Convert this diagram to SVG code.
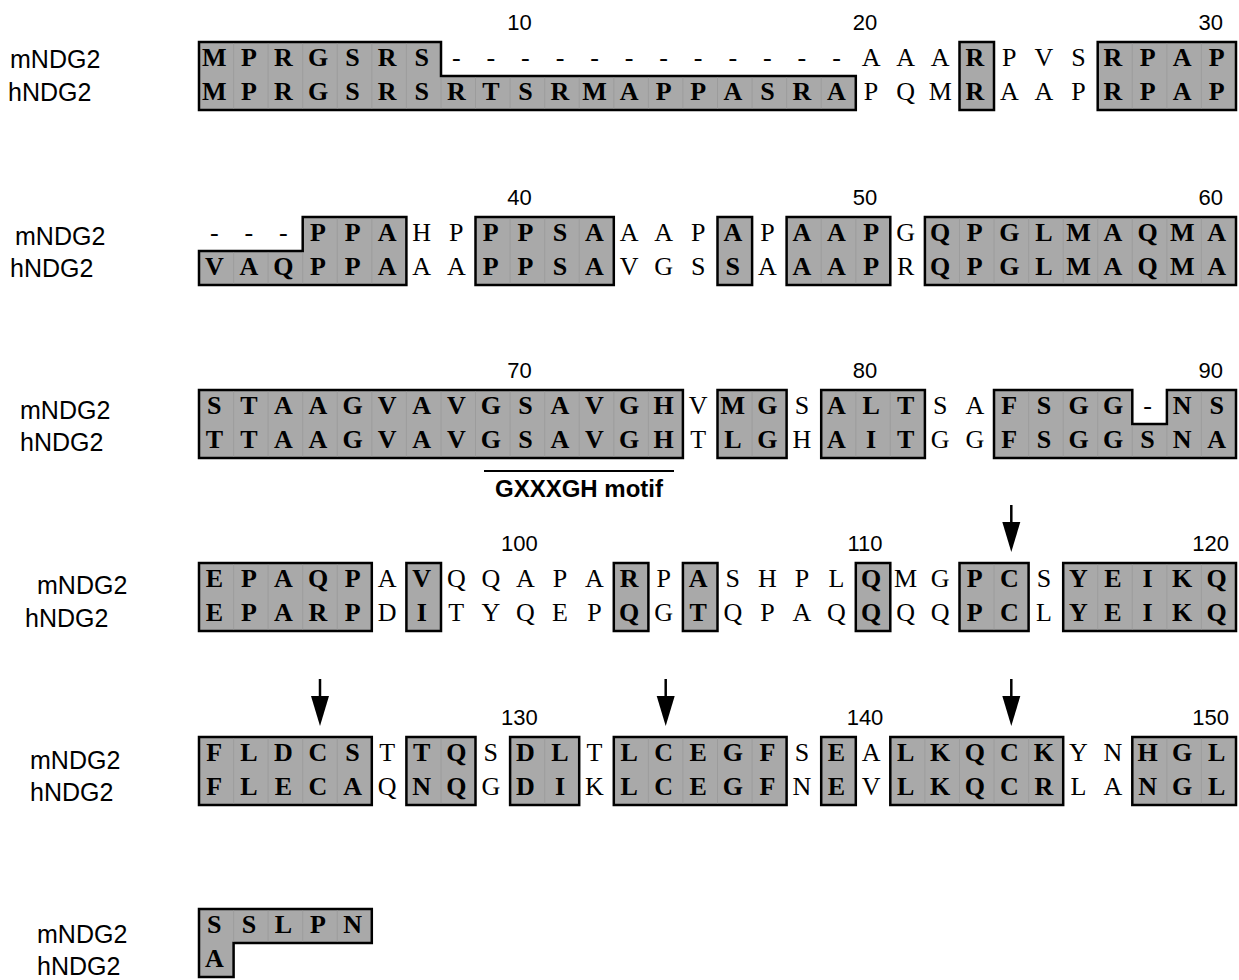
<svg xmlns="http://www.w3.org/2000/svg" width="1239" height="980" viewBox="0 0 1239 980">
<defs>
<style>
.box{fill:#a9a9a9;stroke:#000;stroke-width:2.5;stroke-linejoin:miter}
.sep{stroke:#999;stroke-width:0.8;fill:none}
.b,.n{font-family:"Liberation Serif","Times New Roman",serif;font-size:26px;text-anchor:middle;fill:#000}
.b{font-weight:bold}
.n{font-weight:normal}
.lbl{font-family:"Liberation Sans",Arial,sans-serif;font-size:25px;fill:#000}
.num{font-family:"Liberation Sans",Arial,sans-serif;font-size:22px;text-anchor:middle;fill:#000}
.motif{font-family:"Liberation Sans",Arial,sans-serif;font-size:24px;font-weight:bold;text-anchor:middle;fill:#000}
.stem{stroke:#000;stroke-width:2.5;fill:none}
</style>
<marker id="ah" markerUnits="userSpaceOnUse" markerWidth="30" markerHeight="18" refX="0" refY="9" orient="auto" overflow="visible"><path d="M0,0 L30,9 L0,18 z" fill="#000"/></marker>
</defs>
<rect width="1239" height="980" fill="#fff"/>

<g id="block1">
<text class="num" x="519.4" y="30">10</text><text class="num" x="865" y="30">20</text><text class="num" x="1210.7" y="30">30</text>
<text class="lbl" x="10" y="68">mNDG2</text><text class="lbl" x="8" y="101">hNDG2</text>
<polygon class="box" points="199,42 441,42 441,76 855.8,76 855.8,110 199,110"/>
<rect class="box" x="959.5" y="42" width="34.5" height="68"/>
<rect class="box" x="1097.7" y="42" width="138.3" height="68"/>
<path class="sep" d="M233.6,43.5V108.5M268.1,43.5V108.5M302.7,43.5V108.5M337.3,43.5V108.5M371.8,43.5V108.5M406.4,43.5V108.5M441,77.5V108.5M475.5,77.5V108.5M510.1,77.5V108.5M544.7,77.5V108.5M579.2,77.5V108.5M613.8,77.5V108.5M648.4,77.5V108.5M682.9,77.5V108.5M717.5,77.5V108.5M752.1,77.5V108.5M786.6,77.5V108.5M821.2,77.5V108.5M1132.3,43.5V108.5M1166.9,43.5V108.5M1201.4,43.5V108.5"/>
<text y="66"><tspan class="b" x="214.3 248.9 283.4 318 352.6 387.1 421.7">MPRGSRS</tspan><tspan class="n" x="456.3 490.8 525.4 560 594.5 629.1 663.7 698.2 732.8 767.4 801.9 836.5 871.1 905.6 940.2">------------AAA</tspan><tspan class="b" x="974.8">R</tspan><tspan class="n" x="1009.3 1043.9 1078.5">PVS</tspan><tspan class="b" x="1113 1147.6 1182.2 1216.7">RPAP</tspan></text>
<text y="100"><tspan class="b" x="214.3 248.9 283.4 318 352.6 387.1 421.7 456.3 490.8 525.4 560 594.5 629.1 663.7 698.2 732.8 767.4 801.9 836.5">MPRGSRSRTSRMAPPASRA</tspan><tspan class="n" x="871.1 905.6 940.2">PQM</tspan><tspan class="b" x="974.8">R</tspan><tspan class="n" x="1009.3 1043.9 1078.5">AAP</tspan><tspan class="b" x="1113 1147.6 1182.2 1216.7">RPAP</tspan></text>
</g>

<g id="block2">
<text class="num" x="519.4" y="205">40</text><text class="num" x="865" y="205">50</text><text class="num" x="1210.7" y="205">60</text>
<text class="lbl" x="15" y="245">mNDG2</text><text class="lbl" x="10" y="277">hNDG2</text>
<polygon class="box" points="302.7,217 406.4,217 406.4,285 199,285 199,251 302.7,251"/>
<rect class="box" x="475.5" y="217" width="138.3" height="68"/>
<rect class="box" x="717.5" y="217" width="34.6" height="68"/>
<rect class="box" x="786.6" y="217" width="103.7" height="68"/>
<rect class="box" x="924.9" y="217" width="311.1" height="68"/>
<path class="sep" d="M233.6,252.5V283.5M268.1,252.5V283.5M302.7,252.5V283.5M337.3,218.5V283.5M371.8,218.5V283.5M510.1,218.5V283.5M544.7,218.5V283.5M579.2,218.5V283.5M821.2,218.5V283.5M855.8,218.5V283.5M959.5,218.5V283.5M994,218.5V283.5M1028.6,218.5V283.5M1063.2,218.5V283.5M1097.7,218.5V283.5M1132.3,218.5V283.5M1166.9,218.5V283.5M1201.4,218.5V283.5"/>
<text y="241"><tspan class="n" x="214.3 248.9 283.4">---</tspan><tspan class="b" x="318 352.6 387.1">PPA</tspan><tspan class="n" x="421.7 456.3">HP</tspan><tspan class="b" x="490.8 525.4 560 594.5">PPSA</tspan><tspan class="n" x="629.1 663.7 698.2">AAP</tspan><tspan class="b" x="732.8">A</tspan><tspan class="n" x="767.4">P</tspan><tspan class="b" x="801.9 836.5 871.1">AAP</tspan><tspan class="n" x="905.6">G</tspan><tspan class="b" x="940.2 974.8 1009.3 1043.9 1078.5 1113 1147.6 1182.2 1216.7">QPGLMAQMA</tspan></text>
<text y="275"><tspan class="b" x="214.3 248.9 283.4 318 352.6 387.1">VAQPPA</tspan><tspan class="n" x="421.7 456.3">AA</tspan><tspan class="b" x="490.8 525.4 560 594.5">PPSA</tspan><tspan class="n" x="629.1 663.7 698.2">VGS</tspan><tspan class="b" x="732.8">S</tspan><tspan class="n" x="767.4">A</tspan><tspan class="b" x="801.9 836.5 871.1">AAP</tspan><tspan class="n" x="905.6">R</tspan><tspan class="b" x="940.2 974.8 1009.3 1043.9 1078.5 1113 1147.6 1182.2 1216.7">QPGLMAQMA</tspan></text>
</g>

<g id="block3">
<text class="num" x="519.4" y="378">70</text><text class="num" x="865" y="378">80</text><text class="num" x="1210.7" y="378">90</text>
<text class="lbl" x="20" y="419">mNDG2</text><text class="lbl" x="20" y="451">hNDG2</text>
<rect class="box" x="199" y="390" width="483.9" height="68"/>
<rect class="box" x="717.5" y="390" width="69.1" height="68"/>
<rect class="box" x="821.2" y="390" width="103.7" height="68"/>
<polygon class="box" points="994,390 1132.3,390 1132.3,424 1166.9,424 1166.9,390 1236,390 1236,458 994,458"/>
<path class="sep" d="M233.6,391.5V456.5M268.1,391.5V456.5M302.7,391.5V456.5M337.3,391.5V456.5M371.8,391.5V456.5M406.4,391.5V456.5M441,391.5V456.5M475.5,391.5V456.5M510.1,391.5V456.5M544.7,391.5V456.5M579.2,391.5V456.5M613.8,391.5V456.5M648.4,391.5V456.5M752.1,391.5V456.5M855.8,391.5V456.5M890.3,391.5V456.5M1028.6,391.5V456.5M1063.2,391.5V456.5M1097.7,391.5V456.5M1201.4,391.5V456.5M1132.3,425.5V456.5M1166.9,425.5V456.5"/>
<text y="414"><tspan class="b" x="214.3 248.9 283.4 318 352.6 387.1 421.7 456.3 490.8 525.4 560 594.5 629.1 663.7">STAAGVAVGSAVGH</tspan><tspan class="n" x="698.2">V</tspan><tspan class="b" x="732.8 767.4">MG</tspan><tspan class="n" x="801.9">S</tspan><tspan class="b" x="836.5 871.1 905.6">ALT</tspan><tspan class="n" x="940.2 974.8">SA</tspan><tspan class="b" x="1009.3 1043.9 1078.5 1113">FSGG</tspan><tspan class="n" x="1147.6">-</tspan><tspan class="b" x="1182.2 1216.7">NS</tspan></text>
<text y="448"><tspan class="b" x="214.3 248.9 283.4 318 352.6 387.1 421.7 456.3 490.8 525.4 560 594.5 629.1 663.7">TTAAGVAVGSAVGH</tspan><tspan class="n" x="698.2">T</tspan><tspan class="b" x="732.8 767.4">LG</tspan><tspan class="n" x="801.9">H</tspan><tspan class="b" x="836.5 871.1 905.6">AIT</tspan><tspan class="n" x="940.2 974.8">GG</tspan><tspan class="b" x="1009.3 1043.9 1078.5 1113 1147.6 1182.2 1216.7">FSGGSNA</tspan></text>
</g>

<g id="motif">
<line x1="484" y1="471" x2="674" y2="471" stroke="#000" stroke-width="2"/>
<text class="motif" x="579" y="497">GXXXGH motif</text>
</g>

<g id="block4">
<text class="num" x="519.4" y="551">100</text><text class="num" x="865" y="551">110</text><text class="num" x="1210.7" y="551">120</text>
<text class="lbl" x="37" y="594">mNDG2</text><text class="lbl" x="25" y="627">hNDG2</text>
<rect class="box" x="199" y="563" width="172.8" height="68"/>
<rect class="box" x="406.4" y="563" width="34.6" height="68"/>
<rect class="box" x="613.8" y="563" width="34.6" height="68"/>
<rect class="box" x="682.9" y="563" width="34.6" height="68"/>
<rect class="box" x="855.8" y="563" width="34.5" height="68"/>
<rect class="box" x="959.5" y="563" width="69.1" height="68"/>
<rect class="box" x="1063.2" y="563" width="172.8" height="68"/>
<path class="sep" d="M233.6,564.5V629.5M268.1,564.5V629.5M302.7,564.5V629.5M337.3,564.5V629.5M994,564.5V629.5M1097.7,564.5V629.5M1132.3,564.5V629.5M1166.9,564.5V629.5M1201.4,564.5V629.5"/>
<text y="587"><tspan class="b" x="214.3 248.9 283.4 318 352.6">EPAQP</tspan><tspan class="n" x="387.1">A</tspan><tspan class="b" x="421.7">V</tspan><tspan class="n" x="456.3 490.8 525.4 560 594.5">QQAPA</tspan><tspan class="b" x="629.1">R</tspan><tspan class="n" x="663.7">P</tspan><tspan class="b" x="698.2">A</tspan><tspan class="n" x="732.8 767.4 801.9 836.5">SHPL</tspan><tspan class="b" x="871.1">Q</tspan><tspan class="n" x="905.6 940.2">MG</tspan><tspan class="b" x="974.8 1009.3">PC</tspan><tspan class="n" x="1043.9">S</tspan><tspan class="b" x="1078.5 1113 1147.6 1182.2 1216.7">YEIKQ</tspan></text>
<text y="621"><tspan class="b" x="214.3 248.9 283.4 318 352.6">EPARP</tspan><tspan class="n" x="387.1">D</tspan><tspan class="b" x="421.7">I</tspan><tspan class="n" x="456.3 490.8 525.4 560 594.5">TYQEP</tspan><tspan class="b" x="629.1">Q</tspan><tspan class="n" x="663.7">G</tspan><tspan class="b" x="698.2">T</tspan><tspan class="n" x="732.8 767.4 801.9 836.5">QPAQ</tspan><tspan class="b" x="871.1">Q</tspan><tspan class="n" x="905.6 940.2">QQ</tspan><tspan class="b" x="974.8 1009.3">PC</tspan><tspan class="n" x="1043.9">L</tspan><tspan class="b" x="1078.5 1113 1147.6 1182.2 1216.7">YEIKQ</tspan></text>
</g>

<g id="block5">
<text class="num" x="519.4" y="725">130</text><text class="num" x="865" y="725">140</text><text class="num" x="1210.7" y="725">150</text>
<text class="lbl" x="30" y="769">mNDG2</text><text class="lbl" x="30" y="801">hNDG2</text>
<rect class="box" x="199" y="737" width="172.8" height="68"/>
<rect class="box" x="406.4" y="737" width="69.1" height="68"/>
<rect class="box" x="510.1" y="737" width="69.1" height="68"/>
<rect class="box" x="613.8" y="737" width="172.8" height="68"/>
<rect class="box" x="821.2" y="737" width="34.6" height="68"/>
<rect class="box" x="890.3" y="737" width="172.9" height="68"/>
<rect class="box" x="1132.3" y="737" width="103.7" height="68"/>
<path class="sep" d="M233.6,738.5V803.5M268.1,738.5V803.5M302.7,738.5V803.5M337.3,738.5V803.5M441,738.5V803.5M544.7,738.5V803.5M648.4,738.5V803.5M682.9,738.5V803.5M717.5,738.5V803.5M752.1,738.5V803.5M924.9,738.5V803.5M959.5,738.5V803.5M994,738.5V803.5M1028.6,738.5V803.5M1166.9,738.5V803.5M1201.4,738.5V803.5"/>
<text y="761"><tspan class="b" x="214.3 248.9 283.4 318 352.6">FLDCS</tspan><tspan class="n" x="387.1">T</tspan><tspan class="b" x="421.7 456.3">TQ</tspan><tspan class="n" x="490.8">S</tspan><tspan class="b" x="525.4 560">DL</tspan><tspan class="n" x="594.5">T</tspan><tspan class="b" x="629.1 663.7 698.2 732.8 767.4">LCEGF</tspan><tspan class="n" x="801.9">S</tspan><tspan class="b" x="836.5">E</tspan><tspan class="n" x="871.1">A</tspan><tspan class="b" x="905.6 940.2 974.8 1009.3 1043.9">LKQCK</tspan><tspan class="n" x="1078.5 1113">YN</tspan><tspan class="b" x="1147.6 1182.2 1216.7">HGL</tspan></text>
<text y="795"><tspan class="b" x="214.3 248.9 283.4 318 352.6">FLECA</tspan><tspan class="n" x="387.1">Q</tspan><tspan class="b" x="421.7 456.3">NQ</tspan><tspan class="n" x="490.8">G</tspan><tspan class="b" x="525.4 560">DI</tspan><tspan class="n" x="594.5">K</tspan><tspan class="b" x="629.1 663.7 698.2 732.8 767.4">LCEGF</tspan><tspan class="n" x="801.9">N</tspan><tspan class="b" x="836.5">E</tspan><tspan class="n" x="871.1">V</tspan><tspan class="b" x="905.6 940.2 974.8 1009.3 1043.9">LKQCR</tspan><tspan class="n" x="1078.5 1113">LA</tspan><tspan class="b" x="1147.6 1182.2 1216.7">NGL</tspan></text>
</g>

<g id="block6">
<text class="lbl" x="37" y="943">mNDG2</text><text class="lbl" x="37" y="975">hNDG2</text>
<polygon class="box" points="199,909 371.8,909 371.8,943 233.6,943 233.6,977 199,977"/>
<path class="sep" d="M233.6,910.5V941.5M268.1,910.5V941.5M302.7,910.5V941.5M337.3,910.5V941.5"/>
<text y="933"><tspan class="b" x="214.3 248.9 283.4 318 352.6">SSLPN</tspan></text>
<text y="967"><tspan class="b" x="214.3">A</tspan></text>
</g>

<g id="connectors">
<line class="stem" x1="1011.3" y1="505" x2="1011.3" y2="522" marker-end="url(#ah)"/>
<line class="stem" x1="320" y1="679" x2="320" y2="696" marker-end="url(#ah)"/>
<line class="stem" x1="665.7" y1="679" x2="665.7" y2="696" marker-end="url(#ah)"/>
<line class="stem" x1="1011.3" y1="679" x2="1011.3" y2="696" marker-end="url(#ah)"/>
</g>
</svg>
